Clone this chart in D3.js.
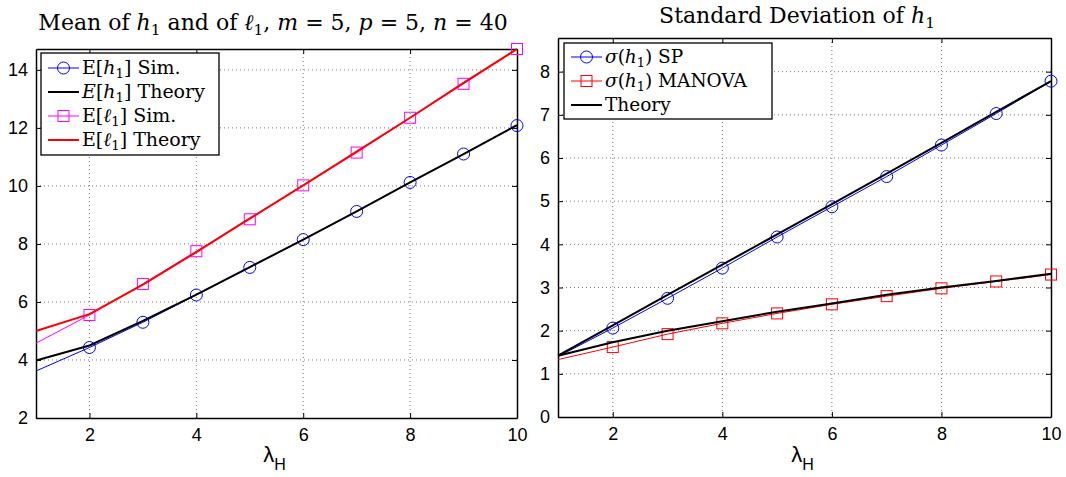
<!DOCTYPE html>
<html>
<head>
<meta charset="utf-8">
<script src="https://cdn.jsdelivr.net/npm/d3@7"></script>
<style>
  body { margin: 0; background: #fff; }
  svg { display: block; }
  .tick-label { font-family: "Liberation Sans", Arial, sans-serif; font-size: 18px; }
  .serif { font-family: "DejaVu Serif", "Liberation Serif", serif; }
  .grid line { stroke: #777; stroke-width: 1; stroke-dasharray: 1,3; }
</style>
</head>
<body>
<svg class="chart" width="1066" height="477"></svg>
<script>

/*Data. Lambda_H runs from 1 to 10.*/

var lambda = [1, 2, 3, 4, 5, 6, 7, 8, 9, 10];

var meanH1Sim    = [3.62, 4.43, 5.30, 6.24, 7.19, 8.15, 9.12, 10.12, 11.10, 12.08];
var meanH1Theory = [3.98, 4.50, 5.35, 6.25, 7.20, 8.15, 9.12, 10.12, 11.10, 12.10];
var meanL1Sim    = [4.58, 5.55, 6.62, 7.75, 8.85, 10.02, 11.15, 12.35, 13.52, 14.72];
var meanL1Theory = [5.00, 5.58, 6.60, 7.72, 8.88, 10.02, 11.18, 12.35, 13.55, 14.72];

var sdH1SP         = [1.40, 2.06, 2.75, 3.45, 4.17, 4.87, 5.57, 6.30, 7.03, 7.78];
var sdH1Manova     = [1.33, 1.62, 1.92, 2.17, 2.40, 2.61, 2.80, 2.98, 3.14, 3.30];
var sdTheorySP     = [1.42, 2.12, 2.83, 3.53, 4.23, 4.93, 5.64, 6.35, 7.07, 7.78];
var sdTheoryManova = [1.42, 1.73, 2.00, 2.22, 2.44, 2.63, 2.83, 3.00, 3.15, 3.32];

var xTicks = [2, 4, 6, 8, 10];
var leftYTicks = [2, 4, 6, 8, 10, 12, 14];
var rightYTicks = [0, 1, 2, 3, 4, 5, 6, 7, 8];

var svg = d3.select(".chart");

/*Helper that writes a piece of "math" text: every part can be italic and/or a subscript.*/

function mathText(sel, parts, size) {
  var lastSub = false;
  parts.forEach(function(p) {
    var t = sel.append("tspan").text(p.t);
    if (p.i) t.attr("font-style", "italic");
    if (p.s && !lastSub) t.attr("dy", size * 0.22);
    if (!p.s && lastSub) t.attr("dy", -size * 0.22);
    if (p.s) t.attr("font-size", size * 0.7);
    lastSub = !!p.s;
  });
}

/*One panel: frame, grid, ticks on all four sides, lines, markers and a legend.*/

function drawPanel(cfg) {
  var x = d3.scaleLinear().domain([1, 10]).range([cfg.left, cfg.right]),
      y = d3.scaleLinear().domain(cfg.yDomain).range([cfg.bottom, cfg.top]);

  var g = svg.append("g");

  /*dotted grid*/
  var grid = g.append("g").attr("class", "grid");
  grid.selectAll(".gx").data(xTicks.filter(function(d) { return d < 10; }))
    .enter().append("line")
      .attr("x1", function(d) { return x(d); }).attr("x2", function(d) { return x(d); })
      .attr("y1", cfg.top).attr("y2", cfg.bottom);
  grid.selectAll(".gy").data(cfg.yTicks.filter(function(d) { return d > cfg.yDomain[0]; }))
    .enter().append("line")
      .attr("y1", function(d) { return y(d); }).attr("y2", function(d) { return y(d); })
      .attr("x1", cfg.left).attr("x2", cfg.right);

  /*axes with inward ticks, MATLAB style*/
  g.append("g").attr("transform", "translate(0," + cfg.bottom + ")")
    .call(d3.axisBottom(x).tickValues(xTicks).tickSizeInner(-5).tickSizeOuter(0).tickPadding(10));
  g.append("g").attr("transform", "translate(0," + cfg.top + ")")
    .call(d3.axisTop(x).tickValues(xTicks).tickSizeInner(-5).tickSizeOuter(0).tickFormat(""));
  g.append("g").attr("transform", "translate(" + cfg.left + ",0)")
    .call(d3.axisLeft(y).tickValues(cfg.yTicks).tickSizeInner(-5).tickSizeOuter(0).tickPadding(8));
  g.append("g").attr("transform", "translate(" + cfg.right + ",0)")
    .call(d3.axisRight(y).tickValues(cfg.yTicks).tickSizeInner(-5).tickSizeOuter(0).tickFormat(""));

  g.selectAll(".domain").attr("stroke", "#000").attr("stroke-width", 1.5);
  g.selectAll(".tick line").attr("stroke", "#000");
  g.selectAll(".tick text").attr("class", "tick-label").attr("fill", "#000")
    .attr("font-family", null).attr("font-size", null);

  var line = d3.line()
    .x(function(d, i) { return x(lambda[i]); })
    .y(function(d) { return y(d); });

  cfg.series.forEach(function(s) {
    g.append("path")
      .datum(s.values)
      .attr("fill", "none")
      .attr("stroke", s.color)
      .attr("stroke-width", s.width)
      .attr("d", line);

    if (!s.marker) return;
    var pts = s.values.map(function(v, i) { return {x: lambda[i], y: v}; })
      .filter(function(d) { return d.x > 1; });
    if (s.marker == "circle") {
      g.selectAll(null).data(pts).enter().append("circle")
        .attr("cx", function(d) { return x(d.x); })
        .attr("cy", function(d) { return y(d.y); })
        .attr("r", 6)
        .attr("fill", "none").attr("stroke", s.color).attr("stroke-width", 1);
    } else {
      g.selectAll(null).data(pts).enter().append("rect")
        .attr("x", function(d) { return x(d.x) - 5.5; })
        .attr("y", function(d) { return y(d.y) - 5.5; })
        .attr("width", 11).attr("height", 11)
        .attr("fill", "none").attr("stroke", s.color).attr("stroke-width", 1);
    }
  });

  /*title*/
  var title = svg.append("text")
    .attr("class", "serif")
    .attr("x", cfg.titleX).attr("y", cfg.titleY)
    .attr("text-anchor", "middle")
    .attr("font-size", 22);
  mathText(title, cfg.title, 22);

  /*x label: lambda with subscript H*/
  var xl = svg.append("text")
    .attr("x", (cfg.left + cfg.right) / 2 - 2).attr("y", 462)
    .attr("text-anchor", "middle")
    .attr("font-family", "Liberation Sans, Arial, sans-serif")
    .attr("font-size", 22);
  xl.append("tspan").text("λ");
  xl.append("tspan").text("H").attr("dy", 8).attr("font-size", 16);

  /*legend*/
  var lg = cfg.legend;
  var leg = svg.append("g");
  leg.append("rect")
    .attr("x", lg.x).attr("y", lg.y).attr("width", lg.w).attr("height", lg.h)
    .attr("fill", "#fff").attr("stroke", "#000").attr("stroke-width", 1.3);

  lg.items.forEach(function(it, i) {
    var s = cfg.series[it.series];
    var cy = lg.y + lg.first + i * lg.step;
    leg.append("line")
      .attr("x1", lg.x + 7).attr("x2", lg.x + 38)
      .attr("y1", cy).attr("y2", cy)
      .attr("stroke", s.color).attr("stroke-width", s.width);
    if (s.marker == "circle") {
      leg.append("circle").attr("cx", lg.x + 22.5).attr("cy", cy).attr("r", 6)
        .attr("fill", "none").attr("stroke", s.color);
    } else if (s.marker == "square") {
      leg.append("rect").attr("x", lg.x + 17).attr("y", cy - 5.5).attr("width", 11).attr("height", 11)
        .attr("fill", "none").attr("stroke", s.color);
    }
    var t = leg.append("text")
      .attr("class", "serif")
      .attr("x", lg.x + 41).attr("y", cy + 6)
      .attr("font-size", lg.font);
    mathText(t, it.label, lg.font);
  });
}

/*Left panel: means*/

drawPanel({
  left: 36, right: 517, top: 49, bottom: 418,
  yDomain: [2, 14.72], yTicks: leftYTicks,
  titleX: 273, titleY: 30,
  title: [{t: "Mean of "}, {t: "h", i: 1}, {t: "1", s: 1}, {t: " and of "}, {t: "ℓ", i: 1}, {t: "1", s: 1},
          {t: ", "}, {t: "m", i: 1}, {t: " = 5, "}, {t: "p", i: 1}, {t: " = 5, "}, {t: "n", i: 1}, {t: " = 40"}],
  series: [
    {values: meanH1Sim, color: "#0000ff", width: 1, marker: "circle"},
    {values: meanH1Theory, color: "#000000", width: 2, marker: null},
    {values: meanL1Sim, color: "#ff00ff", width: 1, marker: "square"},
    {values: meanL1Theory, color: "#ff0000", width: 2, marker: null}
  ],
  legend: {
    x: 41, y: 53, w: 178, h: 102, first: 15, step: 24, font: 19,
    items: [
      {series: 0, label: [{t: "E["}, {t: "h", i: 1}, {t: "1", s: 1}, {t: "] Sim."}]},
      {series: 1, label: [{t: "E", i: 1}, {t: "["}, {t: "h", i: 1}, {t: "1", s: 1}, {t: "] Theory"}]},
      {series: 2, label: [{t: "E["}, {t: "ℓ", i: 1}, {t: "1", s: 1}, {t: "] Sim."}]},
      {series: 3, label: [{t: "E["}, {t: "ℓ", i: 1}, {t: "1", s: 1}, {t: "] Theory"}]}
    ]
  }
});

/*Right panel: standard deviations*/

drawPanel({
  left: 558, right: 1051, top: 38, bottom: 417,
  yDomain: [0, 8.78], yTicks: rightYTicks,
  titleX: 797, titleY: 23,
  title: [{t: "Standard Deviation of "}, {t: "h", i: 1}, {t: "1", s: 1}],
  series: [
    {values: sdH1SP, color: "#0000ff", width: 1, marker: "circle"},
    {values: sdH1Manova, color: "#ff0000", width: 1, marker: "square"},
    {values: sdTheorySP, color: "#000000", width: 2, marker: null},
    {values: sdTheoryManova, color: "#000000", width: 2, marker: null}
  ],
  legend: {
    x: 564, y: 43, w: 208, h: 76, first: 14, step: 24, font: 18.5,
    items: [
      {series: 0, label: [{t: "σ", i: 1}, {t: "("}, {t: "h", i: 1}, {t: "1", s: 1}, {t: ") SP"}]},
      {series: 1, label: [{t: "σ", i: 1}, {t: "("}, {t: "h", i: 1}, {t: "1", s: 1}, {t: ") MANOVA"}]},
      {series: 2, label: [{t: "Theory"}]}
    ]
  }
});

</script>
</body>
</html>
